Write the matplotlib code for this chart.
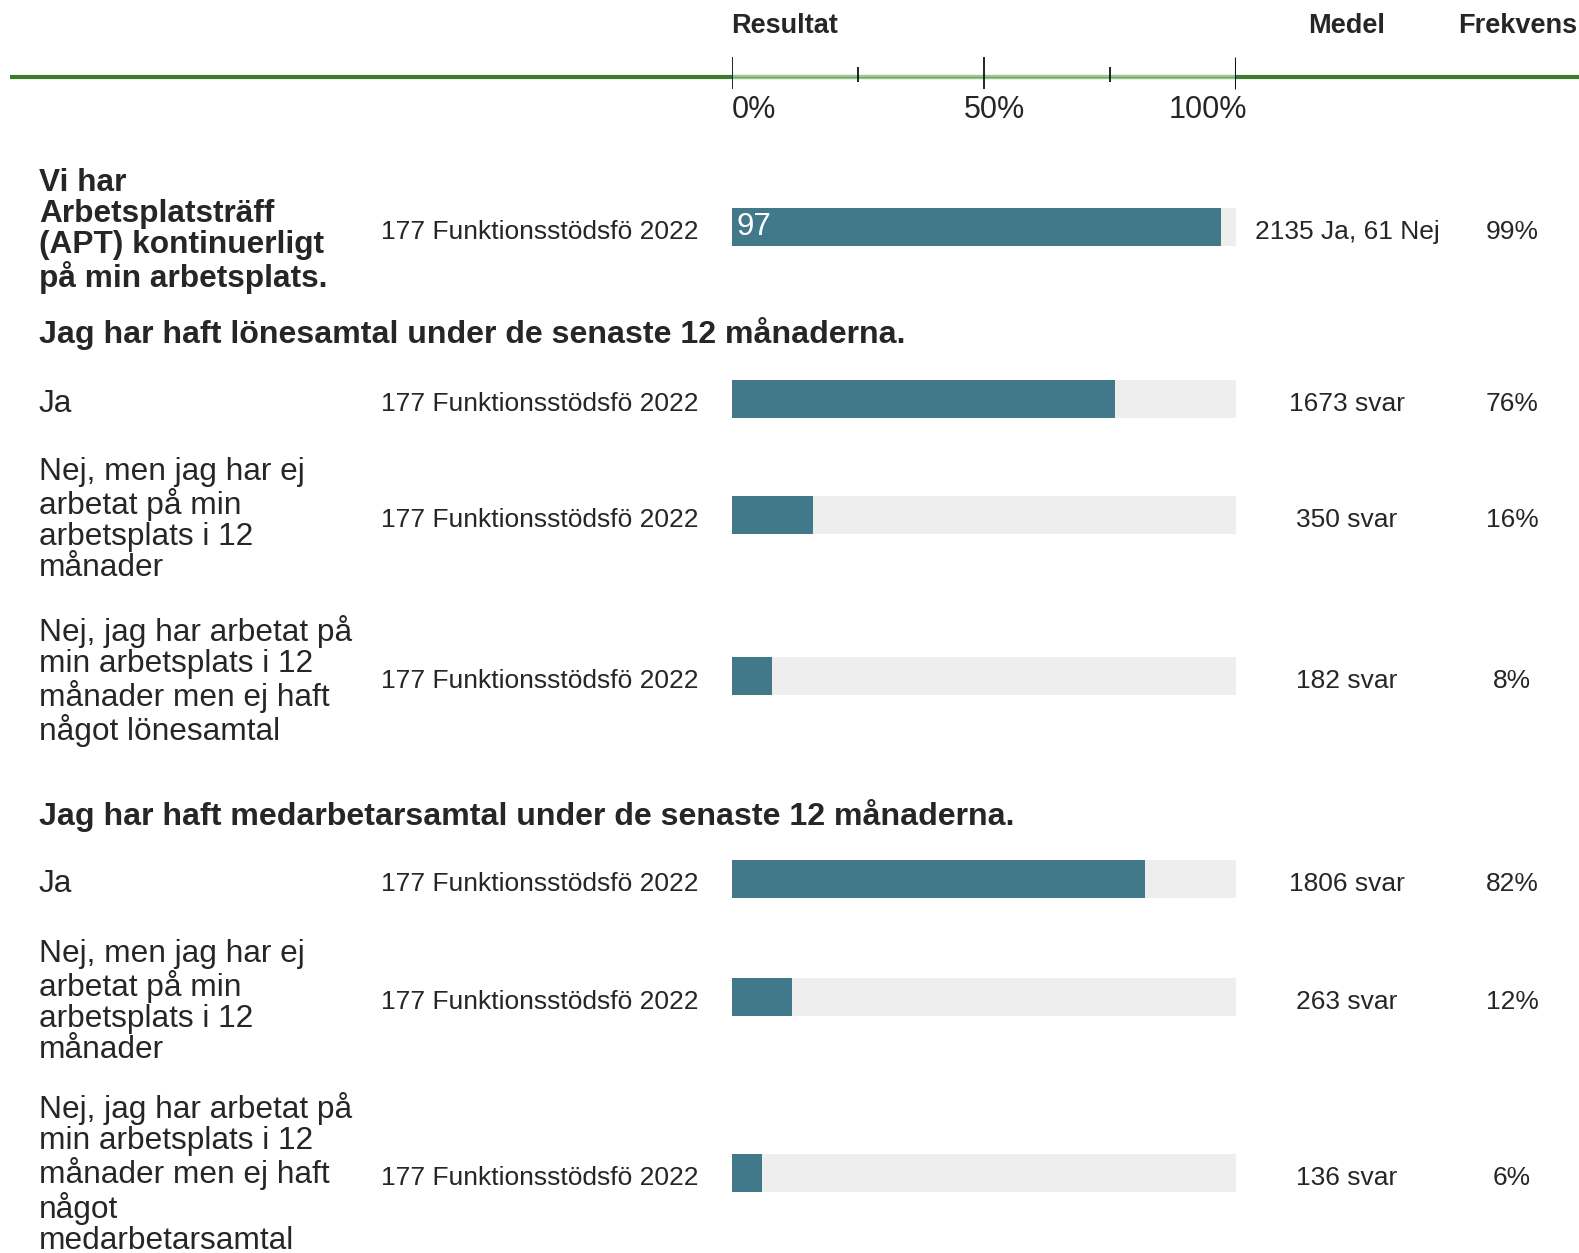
import matplotlib.pyplot as plt

plt.rcParams["font.family"] = ["Liberation Sans", "DejaVu Sans"]

W, H = 1579, 1253

header_labels = ["Resultat", "Medel", "Frekvens"]
scale_ticks = [0, 25, 50, 75, 100]
scale_labels = ["0%", "50%", "100%"]

group_label = "177 Funktionsstödsfö 2022"
section_titles = [
    "Jag har haft lönesamtal under de senaste 12 månaderna.",
    "Jag har haft medarbetarsamtal under de senaste 12 månaderna.",
]
row_labels = [
    "Vi har\nArbetsplatsträff\n(APT) kontinuerligt\npå min arbetsplats.",
    "Ja",
    "Nej, men jag har ej\narbetat på min\narbetsplats i 12\nmånader",
    "Nej, jag har arbetat på\nmin arbetsplats i 12\nmånader men ej haft\nnågot lönesamtal",
    "Ja",
    "Nej, men jag har ej\narbetat på min\narbetsplats i 12\nmånader",
    "Nej, jag har arbetat på\nmin arbetsplats i 12\nmånader men ej haft\nnågot\nmedarbetarsamtal",
]
row_bold = [True, False, False, False, False, False, False]
row_values = [97, 76, 16, 8, 82, 12, 6]
row_value_text = ["97", "", "", "", "", "", ""]
row_medel = ["2135 Ja, 61 Nej", "1673 svar", "350 svar", "182 svar",
             "1806 svar", "263 svar", "136 svar"]
row_freq = ["99%", "76%", "16%", "8%", "82%", "12%", "6%"]

# layout (pixels)
row_y = [227, 399, 515, 676, 879, 997, 1173]
label_dy = [4, 5, 5, 5, 5, 5, 1]
section_y = [334, 816]
bar_left, bar_right = 732, 1236
bar_h = 38

TEXT = "#262626"
TEAL = "#41798b"
TRACK = "#eeeeee"
FS = 19          # small columns
FS_LABEL = 22.8  # row labels
FS_TITLE = 23.1  # section titles

fig = plt.figure(figsize=(W / 100, H / 100), dpi=100)
fig.patch.set_facecolor("white")

# overlay in pixel coordinates
ov = fig.add_axes([0, 0, 1, 1])
ov.set_xlim(0, W)
ov.set_ylim(H, 0)
ov.axis("off")

# bar axes: x in percent, y in pixels
ax = fig.add_axes([bar_left / W, 0, (bar_right - bar_left) / W, 1])
ax.set_xlim(0, 100)
ax.set_ylim(H, 0)
ax.axis("off")

# header
ov.text(bar_left - 1, 26, header_labels[0], fontsize=19.5, fontweight="bold",
        color=TEXT, ha="left", va="center")
ov.text(1347, 26, header_labels[1], fontsize=19.5, fontweight="bold",
        color=TEXT, ha="center", va="center")
ov.text(1518, 26, header_labels[2], fontsize=19.5, fontweight="bold",
        color=TEXT, ha="center", va="center")

# green scale line
ov.plot([10, bar_left], [77, 77], color="#3b7d2d", lw=3, solid_capstyle="butt")
ov.plot([bar_right, W], [77, 77], color="#3b7d2d", lw=3, solid_capstyle="butt")
ax.plot([0, 100], [77, 77], color="#9cc892", lw=3.2, solid_capstyle="butt")
ax.plot([0, 100], [77, 77], color="#6ea962", lw=0.8, solid_capstyle="butt")
for t in scale_ticks:
    if t % 50 == 0:
        ax.vlines(t, 57, 89, color="#111111", lw=2.2 if t == 100 else 1.3)
    else:
        ax.vlines(t, 67, 82, color="#111111", lw=1.3)

label_pos = [(0, "left", 0), (50, "center", 10), (100, "right", 11)]
for (t, ha, dx), lab in zip(label_pos, scale_labels):
    ax.annotate(lab, (t, 110), xytext=(dx * 0.72, 0), textcoords="offset points",
                fontsize=22, color=TEXT, ha=ha, va="center")

# section titles
for y, title in zip(section_y, section_titles):
    ov.text(39, y, title, fontsize=FS_TITLE, fontweight="bold", color=TEXT,
            ha="left", va="center")

# rows
for i, y in enumerate(row_y):
    ov.text(39, y + label_dy[i], row_labels[i], fontsize=FS_LABEL, color=TEXT,
            fontweight="bold" if row_bold[i] else "normal",
            ha="left", va="center", linespacing=1.05)
    ov.text(381, y + 5, group_label, fontsize=FS, color=TEXT,
            ha="left", va="center")
    ax.barh(y, 100, height=bar_h, color=TRACK, edgecolor="none")
    ax.barh(y, row_values[i], height=bar_h, color=TEAL, edgecolor="none")
    if row_value_text[i]:
        ax.annotate(row_value_text[i], (0, y), xytext=(3, 0),
                    textcoords="offset points", fontsize=22.5,
                    color="white", ha="left", va="center")
    ov.text(1347, y + 5, row_medel[i], fontsize=FS, color=TEXT,
            ha="center", va="center")
    ov.text(1512, y + 5, row_freq[i], fontsize=FS, color=TEXT,
            ha="center", va="center")

fig.savefig("out.png", dpi=100, facecolor="white")
